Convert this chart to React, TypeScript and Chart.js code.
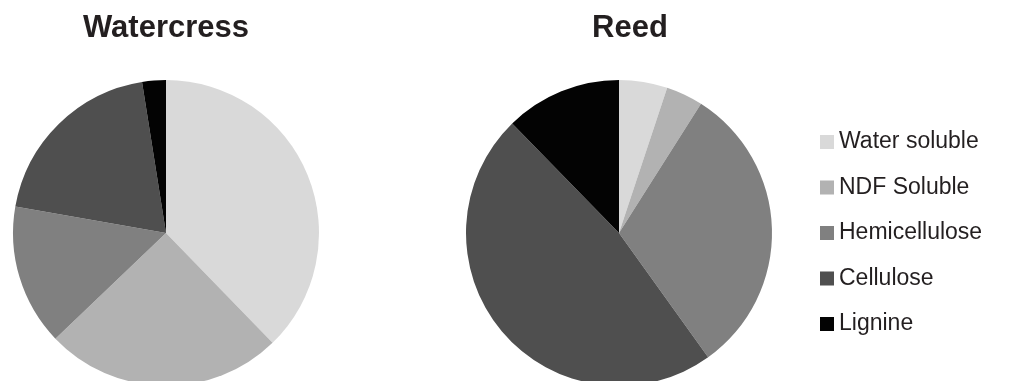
import React, { useEffect, useRef } from "react";
import { Chart, registerables } from "chart.js";

Chart.register(...registerables);

const categories = ["Water soluble", "NDF Soluble", "Hemicellulose", "Cellulose", "Lignine"];
const watercressValues = [37.7, 25.1, 14.9, 19.7, 2.5];
const reedValues = [5.1, 3.9, 31.1, 47.6, 12.3];
const sliceColors = ["#d9d9d9", "#b2b2b2", "#808080", "#4f4f4f", "#030303"];
const chartTitles = ["Watercress", "Reed"];

const FONT = "'Liberation Sans', Arial, Helvetica, sans-serif";
const TEXT_COLOR = "#231f20";

const titleShift = {
  id: "titleShift",
  afterLayout(chart: any, _args: any, opts: any) {
    const t = chart.titleBlock;
    if (t && opts && opts.dx) {
      t.left += opts.dx;
      t.right += opts.dx;
    }
  },
};

function titleOptions(text: string) {
  return {
    display: true,
    text,
    color: TEXT_COLOR,
    font: { family: FONT, size: 31, weight: "bold" as const, lineHeight: 1.2 },
    padding: { top: 10, bottom: 32.8 },
  };
}

function dataset(values: number[]) {
  return {
    data: values,
    backgroundColor: sliceColors,
    borderWidth: 0,
    hoverBorderWidth: 0,
    hoverOffset: 0,
    offset: 0,
  };
}

export default function App() {
  const leftRef = useRef<HTMLCanvasElement>(null);
  const rightRef = useRef<HTMLCanvasElement>(null);

  useEffect(() => {
    const c1 = new Chart(leftRef.current as HTMLCanvasElement, {
      type: "pie",
      data: { labels: categories, datasets: [dataset(watercressValues)] },
      options: {
        responsive: false,
        animation: false,
        events: [],
        layout: { padding: { left: 13, right: 13, top: 0, bottom: 0 } },
        plugins: {
          legend: { display: false },
          tooltip: { enabled: false },
          title: titleOptions(chartTitles[0]),
        },
      } as any,
    });

    const LEGEND_LEFT = 464;
    const CANVAS_W = 670;
    const c2 = new Chart(rightRef.current as HTMLCanvasElement, {
      type: "pie",
      data: { labels: categories, datasets: [dataset(reedValues)] },
      options: {
        responsive: false,
        animation: false,
        events: [],
        layout: { padding: { left: 94, right: 24, top: 0, bottom: 0 } },
        plugins: {
          tooltip: { enabled: false },
          title: { ...titleOptions(chartTitles[1]), fullSize: false },
          titleShift: { dx: 11 },
          legend: {
            display: true,
            position: "right",
            fullSize: false,
            labels: {
              usePointStyle: true,
              pointStyle: "rect",
              boxWidth: 1,
              boxHeight: 14,
              padding: 22.5,
              color: TEXT_COLOR,
              font: { family: FONT, size: 23 },
            },
          },
        },
      } as any,
      plugins: [titleShift as any],
    });
    const lw = (c2 as any).legend.width;
    (c2.options as any).layout.padding = { left: 94, right: CANVAS_W - LEGEND_LEFT - lw, top: 0, bottom: 0 };
    c2.update();

    return () => {
      c1.destroy();
      c2.destroy();
    };
  }, []);

  return (
    <div
      style={{
        position: "fixed",
        left: 0,
        top: 0,
        width: 1010,
        height: 381,
        overflow: "hidden",
        background: "#ffffff",
      }}
    >
      <canvas
        ref={leftRef}
        width={332}
        height={386}
        style={{ position: "absolute", left: 0, top: 0, width: 332, height: 386 }}
      />
      <canvas
        ref={rightRef}
        width={670}
        height={386}
        style={{ position: "absolute", left: 340, top: 0, width: 670, height: 386 }}
      />
    </div>
  );
}
